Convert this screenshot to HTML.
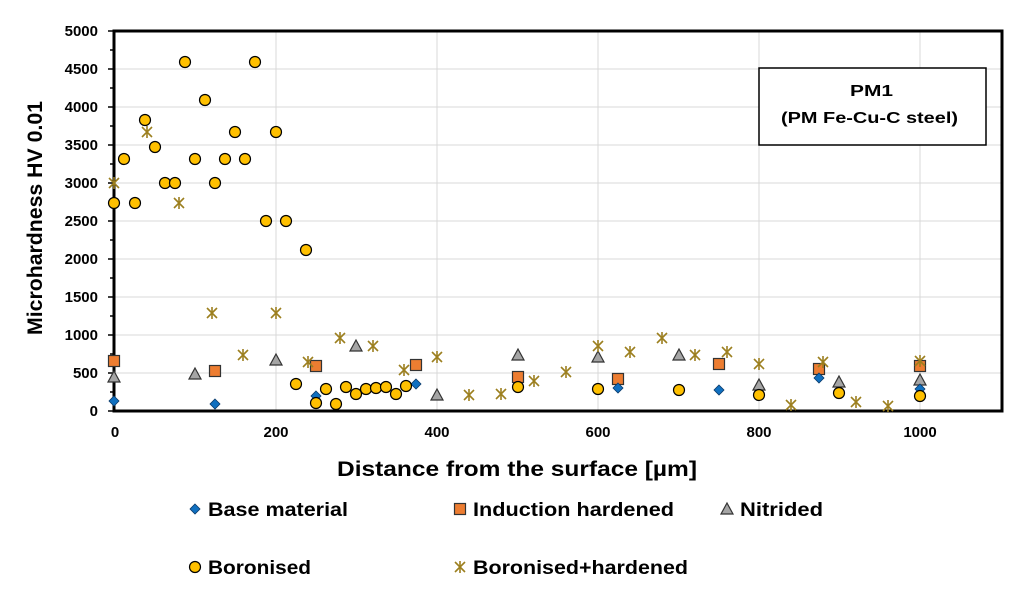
<!DOCTYPE html>
<html><head><meta charset="utf-8"><style>body{margin:0;background:#fff}svg{display:block}text{font-family:"Liberation Sans",sans-serif;font-weight:bold;fill:#000}</style></head><body>
<svg width="1024" height="595" viewBox="0 0 1024 595" xmlns="http://www.w3.org/2000/svg">
<defs>
<g id="c"><circle r="5.5" fill="#FFC000" stroke="#000" stroke-width="1.2"/></g>
<g id="s"><rect x="-5.5" y="-5.5" width="11" height="11" fill="#ED7D31" stroke="#333" stroke-width="1.2"/></g>
<g id="t"><polygon points="0,-6 6,5 -6,5" fill="#A5A5A5" stroke="#333" stroke-width="1.2"/></g>
<g id="d"><polygon points="0,-5 5,0 0,5 -5,0" fill="#1070C0" stroke="#0a3a6a" stroke-width="0.8"/></g>
<g id="a" stroke="#9C7F1F" stroke-width="1.6"><line x1="-5" y1="-5" x2="5" y2="5"/><line x1="-5" y1="5" x2="5" y2="-5"/><line x1="0" y1="-6" x2="0" y2="6"/></g>
</defs>
<g stroke="#d9d9d9" stroke-width="1">
<line x1="276" y1="31" x2="276" y2="411"/><line x1="437" y1="31" x2="437" y2="411"/><line x1="598" y1="31" x2="598" y2="411"/><line x1="759" y1="31" x2="759" y2="411"/><line x1="920" y1="31" x2="920" y2="411"/>
<line x1="114" y1="373" x2="1002" y2="373"/><line x1="114" y1="335" x2="1002" y2="335"/><line x1="114" y1="297" x2="1002" y2="297"/><line x1="114" y1="259" x2="1002" y2="259"/><line x1="114" y1="221" x2="1002" y2="221"/><line x1="114" y1="183" x2="1002" y2="183"/><line x1="114" y1="145" x2="1002" y2="145"/><line x1="114" y1="107" x2="1002" y2="107"/><line x1="114" y1="69" x2="1002" y2="69"/>
</g>
<g stroke="#000" stroke-width="1.5">
<line x1="108" y1="411" x2="114" y2="411"/><line x1="110" y1="392" x2="114" y2="392"/><line x1="108" y1="373" x2="114" y2="373"/><line x1="110" y1="354" x2="114" y2="354"/><line x1="108" y1="335" x2="114" y2="335"/><line x1="110" y1="316" x2="114" y2="316"/><line x1="108" y1="297" x2="114" y2="297"/><line x1="110" y1="278" x2="114" y2="278"/><line x1="108" y1="259" x2="114" y2="259"/><line x1="110" y1="240" x2="114" y2="240"/><line x1="108" y1="221" x2="114" y2="221"/><line x1="110" y1="202" x2="114" y2="202"/><line x1="108" y1="183" x2="114" y2="183"/><line x1="110" y1="164" x2="114" y2="164"/><line x1="108" y1="145" x2="114" y2="145"/><line x1="110" y1="126" x2="114" y2="126"/><line x1="108" y1="107" x2="114" y2="107"/><line x1="110" y1="88" x2="114" y2="88"/><line x1="108" y1="69" x2="114" y2="69"/><line x1="110" y1="50" x2="114" y2="50"/><line x1="108" y1="31" x2="114" y2="31"/>
</g>
<rect x="114" y="31" width="888" height="380" fill="none" stroke="#000" stroke-width="3"/>
<g font-size="15" text-anchor="end">
<text x="98" y="416">0</text><text x="98" y="378">500</text><text x="98" y="340">1000</text><text x="98" y="302">1500</text><text x="98" y="264">2000</text><text x="98" y="226">2500</text><text x="98" y="188">3000</text><text x="98" y="150">3500</text><text x="98" y="112">4000</text><text x="98" y="74">4500</text><text x="98" y="36">5000</text>
</g>
<g font-size="15" text-anchor="middle">
<text x="115" y="437">0</text><text x="276" y="437">200</text><text x="437" y="437">400</text><text x="598" y="437">600</text><text x="759" y="437">800</text><text x="920" y="437">1000</text>
</g>
<text x="337" y="476" font-size="21" textLength="360" lengthAdjust="spacingAndGlyphs">Distance from the surface [µm]</text>
<text transform="translate(42,335) rotate(-90)" font-size="21" textLength="234" lengthAdjust="spacingAndGlyphs">Microhardness HV 0.01</text>
<rect x="759" y="68" width="227" height="77" fill="#fff" stroke="#000" stroke-width="1.5"/>
<text x="850" y="96" font-size="16" textLength="43" lengthAdjust="spacingAndGlyphs">PM1</text>
<text x="781" y="123" font-size="16" textLength="177" lengthAdjust="spacingAndGlyphs">(PM Fe-Cu-C steel)</text>
<!-- triangles -->
<use href="#t" x="114" y="377"/><use href="#t" x="195" y="374"/><use href="#t" x="276" y="360"/><use href="#t" x="356" y="346"/><use href="#t" x="437" y="395"/><use href="#t" x="518" y="355"/><use href="#t" x="598" y="357"/><use href="#t" x="679" y="355"/><use href="#t" x="759" y="385"/><use href="#t" x="839" y="382"/><use href="#t" x="920" y="380"/>
<!-- squares -->
<use href="#s" x="114" y="361"/><use href="#s" x="215" y="371"/><use href="#s" x="316" y="366"/><use href="#s" x="416" y="365"/><use href="#s" x="518" y="377"/><use href="#s" x="618" y="379"/><use href="#s" x="719" y="364"/><use href="#s" x="819" y="369"/><use href="#s" x="920" y="366"/>
<!-- diamonds -->
<use href="#d" x="114" y="401"/><use href="#d" x="215" y="404"/><use href="#d" x="316" y="396"/><use href="#d" x="416" y="384"/><use href="#d" x="618" y="388"/><use href="#d" x="719" y="390"/><use href="#d" x="819" y="378"/><use href="#d" x="920" y="389"/>
<!-- circles -->
<use href="#c" x="114" y="203"/><use href="#c" x="124" y="159"/><use href="#c" x="135" y="203"/><use href="#c" x="145" y="120"/><use href="#c" x="155" y="147"/><use href="#c" x="165" y="183"/><use href="#c" x="175" y="183"/><use href="#c" x="185" y="62"/><use href="#c" x="195" y="159"/><use href="#c" x="205" y="100"/><use href="#c" x="215" y="183"/><use href="#c" x="225" y="159"/><use href="#c" x="235" y="132"/><use href="#c" x="245" y="159"/><use href="#c" x="255" y="62"/><use href="#c" x="266" y="221"/><use href="#c" x="276" y="132"/><use href="#c" x="286" y="221"/><use href="#c" x="306" y="250"/><use href="#c" x="296" y="384"/><use href="#c" x="316" y="403"/><use href="#c" x="326" y="389"/><use href="#c" x="336" y="404"/><use href="#c" x="346" y="387"/><use href="#c" x="356" y="394"/><use href="#c" x="366" y="389"/><use href="#c" x="376" y="388"/><use href="#c" x="386" y="387"/><use href="#c" x="396" y="394"/><use href="#c" x="406" y="386"/><use href="#c" x="518" y="387"/><use href="#c" x="598" y="389"/><use href="#c" x="679" y="390"/><use href="#c" x="759" y="395"/><use href="#c" x="839" y="393"/><use href="#c" x="920" y="396"/>
<!-- asterisks -->
<use href="#a" x="114" y="183"/><use href="#a" x="147" y="132"/><use href="#a" x="179" y="203"/><use href="#a" x="212" y="313"/><use href="#a" x="276" y="313"/><use href="#a" x="243" y="355"/><use href="#a" x="308" y="362"/><use href="#a" x="340" y="338"/><use href="#a" x="373" y="346"/><use href="#a" x="404" y="370"/><use href="#a" x="437" y="357"/><use href="#a" x="469" y="395"/><use href="#a" x="501" y="394"/><use href="#a" x="534" y="381"/><use href="#a" x="566" y="372"/><use href="#a" x="598" y="346"/><use href="#a" x="630" y="352"/><use href="#a" x="662" y="338"/><use href="#a" x="695" y="355"/><use href="#a" x="727" y="352"/><use href="#a" x="759" y="364"/><use href="#a" x="791" y="405"/><use href="#a" x="823" y="362"/><use href="#a" x="856" y="402"/><use href="#a" x="888" y="406"/><use href="#a" x="920" y="361"/>
<!-- legend -->
<use href="#d" x="195" y="509"/><text x="208" y="516" font-size="19" textLength="140" lengthAdjust="spacingAndGlyphs">Base material</text>
<use href="#s" x="460" y="509"/><text x="473" y="516" font-size="19" textLength="201" lengthAdjust="spacingAndGlyphs">Induction hardened</text>
<use href="#t" x="727" y="509"/><text x="740" y="516" font-size="19" textLength="83" lengthAdjust="spacingAndGlyphs">Nitrided</text>
<use href="#c" x="195" y="567"/><text x="208" y="574" font-size="19" textLength="103" lengthAdjust="spacingAndGlyphs">Boronised</text>
<use href="#a" x="460" y="567"/><text x="473" y="574" font-size="19" textLength="215" lengthAdjust="spacingAndGlyphs">Boronised+hardened</text>
</svg>
</body></html>
